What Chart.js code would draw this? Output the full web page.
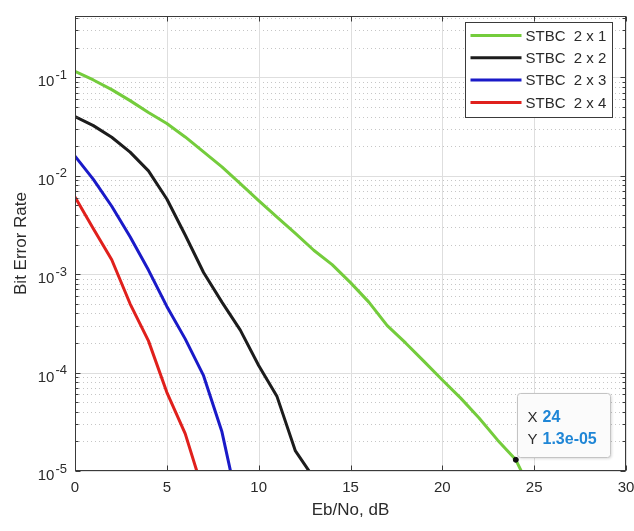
<!DOCTYPE html>
<html>
<head>
<meta charset="utf-8">
<script src="https://cdn.jsdelivr.net/npm/chart.js@4.4.1/dist/chart.umd.min.js"></script>
<style>
  body { margin: 0; background: #ffffff; }
  #wrap { width: 634px; height: 531px; }
</style>
</head>
<body>
<div id="wrap"><canvas id="berChart"></canvas></div>
<script>
// Eb/No in dB and simulated BER for each antenna setup
const eb_no_db = [0, 1, 2, 3, 4, 5, 6, 7, 8, 9, 10, 11, 12, 13, 14, 15, 16, 17, 18, 19, 20, 21, 22, 23, 24, 25];

const ber_2x1 = [0.115, 0.094, 0.075, 0.058, 0.044, 0.034, 0.0248, 0.0175, 0.0123, 0.0083, 0.0056, 0.0038, 0.0026, 0.00175,
  0.00125, 0.00082, 0.00052, 0.0003, 0.0002, 0.00013, 0.000084, 0.000055, 0.0000346, 0.0000207, 0.000013, 0.0000054];
const ber_2x2 = [0.040, 0.0323, 0.0246, 0.0174, 0.0112, 0.0058, 0.0025, 0.00104, 0.00052, 0.00027, 0.000118, 0.000057, 0.000016, 0.0000085];
const ber_2x3 = [0.0158, 0.0092, 0.0049, 0.0024, 0.0011, 0.00047, 0.00022, 0.000093, 0.000025, 0.0000035];
const ber_2x4 = [0.0061, 0.0029, 0.0014, 0.0005, 0.00021, 0.000063, 0.000024, 0.000006];

const series_labels = ['STBC  2 x 1', 'STBC  2 x 2', 'STBC  2 x 3', 'STBC  2 x 4'];
const series_colors = ['#74cc3c', '#1c1c1c', '#1a1ac8', '#e0201c'];

const x_ticks = [0, 5, 10, 15, 20, 25, 30];
const y_decades = [1e-5, 1e-4, 1e-3, 1e-2, 1e-1];
const y_exponents = ['-5', '-4', '-3', '-2', '-1'];

// data tip sits on the 2x1 curve
const tip_index = 24;

const font_family = "'Liberation Sans', Arial, Helvetica, sans-serif";
const text_color = '#2b2b2b';

function matlab_exp(v){
  const parts = v.toExponential(1).split('e');
  const n = parseInt(parts[1]);
  return parts[0] + 'e' + (n < 0 ? '-' : '+') + String(Math.abs(n)).padStart(2, '0');
}

const all_series = [ber_2x1, ber_2x2, ber_2x3, ber_2x4];

const matlab_axes = {
  id: 'matlab_axes',
  beforeDatasetsDraw(chart){
    const {ctx, chartArea: a, scales: {x, y}} = chart;
    ctx.save();
    ctx.lineWidth = 1;

    // minor dotted y grid
    ctx.strokeStyle = '#c6c6c6';
    ctx.setLineDash([1, 3]);
    ctx.beginPath();
    y_decades.forEach(d => {
      for (let m = 2; m <= 9; m++){
        const v = m * d;
        if (v > y.max) continue;
        const py = Math.round(y.getPixelForValue(v)) + 0.5;
        ctx.moveTo(a.left, py);
        ctx.lineTo(a.right, py);
      }
    });
    ctx.stroke();

    // major solid grid
    ctx.setLineDash([]);
    ctx.strokeStyle = '#dedede';
    ctx.beginPath();
    x_ticks.forEach(v => {
      const px = Math.round(x.getPixelForValue(v)) + 0.5;
      ctx.moveTo(px, a.top);
      ctx.lineTo(px, a.bottom);
    });
    y_decades.forEach(v => {
      const py = Math.round(y.getPixelForValue(v)) + 0.5;
      ctx.moveTo(a.left, py);
      ctx.lineTo(a.right, py);
    });
    ctx.stroke();
    ctx.restore();
  },
  afterDatasetsDraw(chart){
    const {ctx, chartArea: a, scales: {x, y}} = chart;
    ctx.save();

    // box and inward ticks
    ctx.strokeStyle = '#3a3a3a';
    ctx.lineWidth = 1;
    const l = Math.round(a.left) + 0.5, r = Math.round(a.right) - 0.5;
    const t = Math.round(a.top) + 0.5, b = Math.round(a.bottom) - 0.5;
    ctx.strokeRect(l, t, r - l, b - t);
    ctx.beginPath();
    x_ticks.forEach(v => {
      const px = Math.round(x.getPixelForValue(v)) + 0.5;
      ctx.moveTo(px, b); ctx.lineTo(px, b - 5);
      ctx.moveTo(px, t); ctx.lineTo(px, t + 5);
    });
    y_decades.forEach(d => {
      for (let m = 1; m <= 9; m++){
        const v = m * d;
        if (v > y.max) continue;
        const len = m === 1 ? 5 : 3;
        const py = Math.round(y.getPixelForValue(v)) + 0.5;
        ctx.moveTo(l, py); ctx.lineTo(l + len, py);
        ctx.moveTo(r, py); ctx.lineTo(r - len, py);
      }
    });
    ctx.stroke();

    // y tick labels 10^n
    ctx.fillStyle = text_color;
    ctx.textBaseline = 'middle';
    ctx.textAlign = 'left';
    y_decades.forEach((v, i) => {
      const py = y.getPixelForValue(v);
      ctx.font = '13px ' + font_family;
      const ew = ctx.measureText(y_exponents[i]).width;
      ctx.font = '15px ' + font_family;
      const bw = ctx.measureText('10').width;
      const right = a.left - 8;
      ctx.fillText('10', right - ew - bw - 1, py + 5);
      ctx.font = '13px ' + font_family;
      ctx.fillText(y_exponents[i], right - ew, py - 2);
    });

    // legend box
    const bx = Math.round(a.right) - 161 + 0.5, by = Math.round(a.top) + 6 + 0.5;
    ctx.fillStyle = '#ffffff';
    ctx.fillRect(bx, by, 147, 95);
    ctx.strokeStyle = '#3a3a3a';
    ctx.strokeRect(bx, by, 147, 95);
    ctx.font = '15px ' + font_family;
    series_labels.forEach((label, i) => {
      const ry = by + 13 + i * 22.3;
      ctx.strokeStyle = series_colors[i];
      ctx.lineWidth = 3;
      ctx.beginPath();
      ctx.moveTo(bx + 5, ry);
      ctx.lineTo(bx + 56, ry);
      ctx.stroke();
      ctx.fillStyle = text_color;
      ctx.fillText(label, bx + 60, ry + 1);
    });

    // data tip
    const px = x.getPixelForValue(eb_no_db[tip_index]);
    const py = y.getPixelForValue(ber_2x1[tip_index]);
    const tx = Math.round(px) + 1.5, ty = Math.round(py) - 66.5;
    ctx.shadowColor = 'rgba(0,0,0,0.18)';
    ctx.shadowBlur = 3;
    ctx.shadowOffsetX = 1;
    ctx.shadowOffsetY = 1;
    ctx.beginPath();
    ctx.roundRect(tx, ty, 93, 64, 3);
    ctx.fillStyle = '#fbfbfb';
    ctx.fill();
    ctx.shadowColor = 'transparent';
    ctx.lineWidth = 1;
    ctx.strokeStyle = '#c4c4c4';
    ctx.stroke();
    ctx.fillStyle = text_color;
    ctx.font = '15px ' + font_family;
    ctx.fillText('X', tx + 10, ty + 24);
    ctx.fillText('Y', tx + 10, ty + 46);
    ctx.fillStyle = '#1f86d6';
    ctx.font = 'bold 16px ' + font_family;
    ctx.fillText(String(eb_no_db[tip_index]), tx + 25, ty + 24);
    ctx.fillText(matlab_exp(ber_2x1[tip_index]), tx + 25, ty + 46);

    ctx.restore();
  }
};

const datasets = all_series.map((values, s) => ({
  label: series_labels[s],
  data: values.map((v, i) => ({x: eb_no_db[i], y: v})),
  borderColor: series_colors[s],
  backgroundColor: series_colors[s],
  borderWidth: 3,
  borderJoinStyle: 'round',
  tension: 0,
  clip: 0,
  pointRadius: s === 0 ? (c => c.dataIndex === tip_index ? 2.5 : 0) : 0,
  pointBackgroundColor: '#111111',
  pointBorderColor: '#111111',
  pointBorderWidth: 1
}));

const ctx = document.getElementById('berChart').getContext('2d');

const chart = new Chart(ctx, {
  type: 'line',
  data: { datasets: datasets },
  options: {
    responsive: true,
    maintainAspectRatio: false,
    animation: false,
    layout: { padding: { top: 16, right: 8, left: 0, bottom: 0 } },
    plugins: {
      legend: { display: false },
      tooltip: { enabled: false }
    },
    scales: {
      x: {
        type: 'linear',
        min: 0,
        max: 30,
        grid: { display: false, drawTicks: false },
        border: { display: false },
        ticks: {
          stepSize: 5,
          padding: 8,
          color: text_color,
          font: { family: font_family, size: 15 }
        },
        title: {
          display: true,
          text: 'Eb/No, dB',
          color: text_color,
          font: { family: font_family, size: 17 },
          padding: { top: 0, bottom: 10 }
        },
        afterFit: scale => {
          scale.height = 60;
          scale.paddingLeft = 0;
          scale.paddingRight = 0;
        }
      },
      y: {
        type: 'logarithmic',
        min: 1e-5,
        max: 0.42,
        grid: { display: false, drawTicks: false },
        border: { display: false },
        ticks: { display: false },
        title: {
          display: true,
          text: 'Bit Error Rate',
          color: text_color,
          font: { family: font_family, size: 17 },
          padding: { top: 11, bottom: 0 }
        },
        afterFit: scale => { scale.width = 75; }
      }
    }
  },
  plugins: [matlab_axes]
});
</script>
</body>
</html>
